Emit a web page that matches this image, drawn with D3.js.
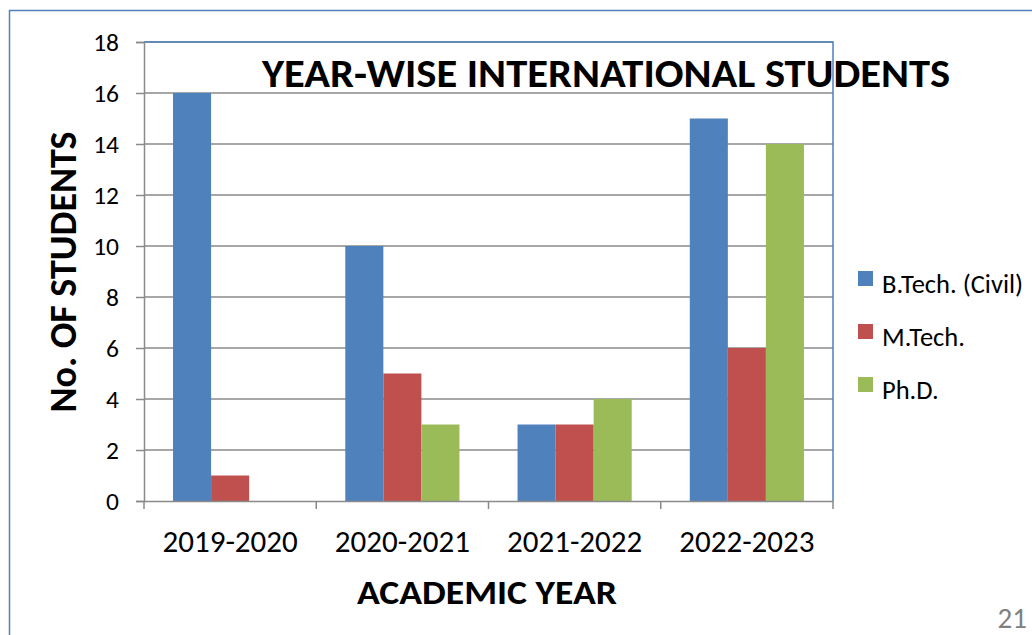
<!DOCTYPE html>
<html>
<head>
<meta charset="utf-8">
<script src="https://cdn.jsdelivr.net/npm/d3@7"></script>
<style>
  body { margin: 0; background: #fff; }
  text { font-family: Carlito, "Open Sans", "Noto Sans", sans-serif; }
</style>
</head>
<body>
<div id="chart"></div>
<script>
// data
const years = ["2019-2020", "2020-2021", "2021-2022", "2022-2023"];
const programmes = ["B.Tech. (Civil)", "M.Tech.", "Ph.D."];
const btech = [16, 10, 3, 15];
const mtech = [1, 5, 3, 6];
const phd = [0, 3, 4, 14];
const yTicks = [0, 2, 4, 6, 8, 10, 12, 14, 16, 18];
const colors = ["#4F81BD", "#C0504D", "#9BBB59"];

const W = 1032, H = 635;
const svg = d3.select("#chart").append("svg")
    .attr("width", W).attr("height", H);

// outer frame (runs off the page at right/bottom)
svg.append("rect")
    .attr("x", 9.5).attr("y", 10.5)
    .attr("width", 1040).attr("height", 640)
    .attr("fill", "none").attr("stroke", "#4F81BD").attr("stroke-width", 1.5);

const plot = {left: 144, right: 833, top: 42, bottom: 501};

const x0 = d3.scaleBand().domain(years).range([plot.left, plot.right]).paddingInner(0).paddingOuter(0);
const x1 = d3.scaleBand().domain(programmes).range([0, x0.bandwidth()]).paddingOuter(0.763).paddingInner(0);
const y = d3.scaleLinear().domain([0, 18]).range([plot.bottom, plot.top]);

// grid
svg.append("g").selectAll("line")
    .data(yTicks.filter(d => d > 0))
    .enter().append("line")
    .attr("x1", plot.left).attr("x2", plot.right)
    .attr("y1", d => y(d)).attr("y2", d => y(d))
    .attr("stroke", "#8a8a8a").attr("stroke-width", 1.5);

// bars
const series = [btech, mtech, phd];
const rows = [];
years.forEach((yr, i) => {
    programmes.forEach((p, j) => {
        rows.push({year: yr, prog: p, value: series[j][i], color: colors[j]});
    });
});
svg.append("g").selectAll("rect")
    .data(rows.filter(d => d.value > 0))
    .enter().append("rect")
    .attr("x", d => x0(d.year) + x1(d.prog))
    .attr("width", x1.bandwidth())
    .attr("y", d => y(d.value))
    .attr("height", d => y(0) - y(d.value))
    .attr("fill", d => d.color);

// plot border top/right (blue)
svg.append("path")
    .attr("d", `M${plot.left},${plot.top}H${plot.right}V${plot.bottom}`)
    .attr("fill", "none").attr("stroke", "#4F81BD").attr("stroke-width", 1.5);

// y axis
const yAxis = svg.append("g")
    .attr("transform", `translate(${plot.left},0)`)
    .call(d3.axisLeft(y).tickValues(yTicks).tickSize(8).tickPadding(17));
yAxis.select(".domain").attr("stroke", "#8a8a8a").attr("stroke-width", 1.5);
yAxis.selectAll(".tick line").attr("stroke", "#8a8a8a").attr("stroke-width", 1.5);
yAxis.selectAll(".tick text").attr("font-size", 25.5).attr("fill", "#000")
    .style("font-family", "Carlito, 'Open Sans', sans-serif");

// x axis
const xAxis = svg.append("g")
    .attr("transform", `translate(0,${plot.bottom})`)
    .call(d3.axisBottom(x0).tickSize(0).tickPadding(30));
xAxis.select(".domain").attr("stroke", "#8a8a8a").attr("stroke-width", 1.5);
xAxis.selectAll(".tick text").attr("font-size", 31).attr("fill", "#000")
    .attr("dy", "0.69em")
    .style("font-family", "Carlito, 'Open Sans', sans-serif");
xAxis.selectAll(".bnd")
    .data(years.map(yr => x0(yr)).concat([plot.right]))
    .enter().append("line")
    .attr("x1", d => d).attr("x2", d => d)
    .attr("y1", 0).attr("y2", 8)
    .attr("stroke", "#8a8a8a").attr("stroke-width", 1.5);

// title
svg.append("text")
    .attr("x", 606).attr("y", 87)
    .attr("text-anchor", "middle")
    .attr("font-size", 41).attr("font-weight", "bold")
    .attr("textLength", 688).attr("lengthAdjust", "spacingAndGlyphs")
    .text("YEAR-WISE INTERNATIONAL STUDENTS");

// axis titles
svg.append("text")
    .attr("transform", "translate(76,272) rotate(-90)")
    .attr("text-anchor", "middle")
    .attr("font-size", 39).attr("font-weight", "bold")
    .attr("textLength", 281).attr("lengthAdjust", "spacingAndGlyphs")
    .text("No. OF STUDENTS");
svg.append("text")
    .attr("x", 487).attr("y", 604)
    .attr("text-anchor", "middle")
    .attr("font-size", 34).attr("font-weight", "bold")
    .attr("textLength", 260).attr("lengthAdjust", "spacingAndGlyphs")
    .text("ACADEMIC YEAR");

// legend
const legend = svg.append("g").selectAll("g")
    .data(programmes)
    .enter().append("g")
    .attr("transform", (d, i) => `translate(858,${271 + i * 53})`);
legend.append("rect")
    .attr("width", 15).attr("height", 15)
    .attr("fill", (d, i) => colors[i]);
legend.append("text")
    .attr("x", 24).attr("y", 22)
    .attr("font-size", 26.5)
    .text(d => d);

// page number
svg.append("text")
    .attr("x", 1027).attr("y", 628)
    .attr("text-anchor", "end")
    .attr("font-size", 29).attr("fill", "#808080")
    .text("21");
</script>
</body>
</html>
